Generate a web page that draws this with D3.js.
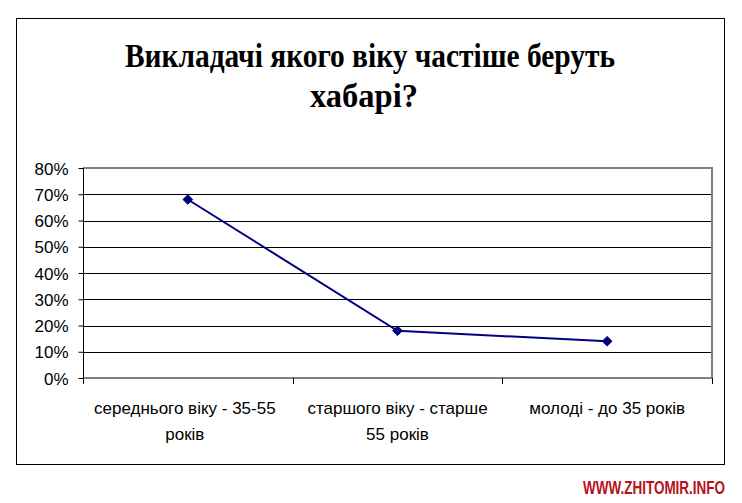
<!DOCTYPE html>
<html>
<head>
<meta charset="utf-8">
<script src="https://cdn.jsdelivr.net/npm/d3@7"></script>
<style>
  html, body { margin: 0; padding: 0; background: #fff; }
  svg { display: block; }
</style>
</head>
<body>
<svg id="chart" width="742" height="503"></svg>
<script>
// ---- data ----
const categories = [
  ["середнього віку - 35-55", "років"],
  ["старшого віку - старше", "55 років"],
  ["молоді - до 35 років"]
];
const categoryKeys = ["mid", "old", "young"];
const values = [0.68, 0.18, 0.14];
const yTicks = [0, 0.1, 0.2, 0.3, 0.4, 0.5, 0.6, 0.7, 0.8];
const titleLines = ["Викладачі якого віку частіше беруть", "хабарі?"];
const watermark = "WWW.ZHITOMIR.INFO";

// ---- layout ----
const svg = d3.select("#chart");
const plot = { left: 83, right: 712, top: 168, bottom: 378 };

// outer frame
svg.append("rect")
  .attr("x", 16.5).attr("y", 18.5)
  .attr("width", 708).attr("height", 446)
  .attr("fill", "#fff").attr("stroke", "#000").attr("stroke-width", 1);

// title
const title = svg.append("g");
title.append("text")
  .attr("x", 370).attr("y", 67)
  .attr("text-anchor", "middle")
  .attr("font-family", "'Liberation Serif', 'Times New Roman', serif")
  .attr("font-weight", "bold")
  .attr("font-size", 33)
  .attr("textLength", 490)
  .attr("lengthAdjust", "spacingAndGlyphs")
  .text(titleLines[0]);
title.append("text")
  .attr("x", 364).attr("y", 107)
  .attr("text-anchor", "middle")
  .attr("font-family", "'Liberation Serif', 'Times New Roman', serif")
  .attr("font-weight", "bold")
  .attr("font-size", 33)
  .attr("textLength", 108)
  .attr("lengthAdjust", "spacingAndGlyphs")
  .text(titleLines[1]);

// scales
const x = d3.scaleBand().domain(categoryKeys).range([plot.left, plot.right]).padding(0);
const y = d3.scaleLinear().domain([0, 0.8]).range([plot.bottom, plot.top]);

// gridlines
svg.append("g")
  .selectAll("line")
  .data(yTicks.filter(d => d > 0 && d < 0.8))
  .join("line")
  .attr("x1", plot.left).attr("x2", plot.right)
  .attr("y1", d => Math.round(y(d)) + 0.5).attr("y2", d => Math.round(y(d)) + 0.5)
  .attr("stroke", "#000").attr("stroke-width", 1);

// plot area border (top, right, bottom) gray
svg.append("path")
  .attr("d", `M${plot.left},${plot.top}H${plot.right}V${plot.bottom}H${plot.left}`)
  .attr("fill", "none").attr("stroke", "#808080").attr("stroke-width", 2);

// y axis
const yAxis = d3.axisLeft(y)
  .tickValues(yTicks)
  .tickFormat(d3.format(".0%"))
  .tickSize(5)
  .tickPadding(10);
const gy = svg.append("g")
  .attr("transform", `translate(${plot.left + 0.5},0)`)
  .call(yAxis);
gy.select(".domain").attr("stroke", "#000").attr("d", `M0,${y(0.8)}V${y(0) + 5}`);
gy.selectAll(".tick line").attr("stroke", "#000");
gy.selectAll(".tick text")
  .attr("font-family", "'Liberation Sans', Arial, sans-serif")
  .attr("font-size", 17)
  .attr("fill", "#000")
  .attr("dy", "0.36em");

// x axis tick marks at category boundaries
const boundaries = categoryKeys.map(k => x(k)).concat([x(categoryKeys[categoryKeys.length - 1]) + x.bandwidth()]);
svg.append("g")
  .selectAll("line")
  .data(boundaries)
  .join("line")
  .attr("x1", d => Math.round(d) + 0.5).attr("x2", d => Math.round(d) + 0.5)
  .attr("y1", plot.bottom).attr("y2", plot.bottom + 6)
  .attr("stroke", "#000").attr("stroke-width", 1);

// x labels
const xl = svg.append("g")
  .selectAll("text")
  .data(categoryKeys)
  .join("text")
  .attr("x", (d, i) => x(d) + x.bandwidth() / 2 + (i === 0 ? -3 : 0))
  .attr("y", 414)
  .attr("text-anchor", "middle")
  .attr("font-family", "'Liberation Sans', Arial, sans-serif")
  .attr("font-size", 17)
  .attr("fill", "#000");
xl.each(function(d, i) {
  const t = d3.select(this);
  categories[i].forEach((line, j) => {
    t.append("tspan")
      .attr("x", x(d) + x.bandwidth() / 2 + (i === 0 ? -3 : 0))
      .attr("dy", j === 0 ? 0 : 26)
      .text(line);
  });
});

// line
const line = d3.line()
  .x((d, i) => x(categoryKeys[i]) + x.bandwidth() / 2)
  .y(d => y(d));
svg.append("path")
  .datum(values)
  .attr("d", line)
  .attr("fill", "none")
  .attr("stroke", "#000080")
  .attr("stroke-width", 2);

// markers
svg.append("g")
  .selectAll("path")
  .data(values)
  .join("path")
  .attr("transform", (d, i) => `translate(${x(categoryKeys[i]) + x.bandwidth() / 2},${y(d)})`)
  .attr("d", d3.symbol(d3.symbolDiamond2, 60)())
  .attr("fill", "#000080")
  .attr("stroke", "#000080")
  .attr("stroke-width", 1);

// watermark (condensed via horizontal scale)
svg.append("text")
  .attr("transform", "translate(583,494) scale(0.75,1)")
  .attr("x", 0).attr("y", 0)
  .attr("font-family", "'Liberation Sans', Arial, sans-serif")
  .attr("font-weight", "bold")
  .attr("font-size", 18)
  .attr("fill", "#b5121b")
  .text(watermark);
</script>
</body>
</html>
